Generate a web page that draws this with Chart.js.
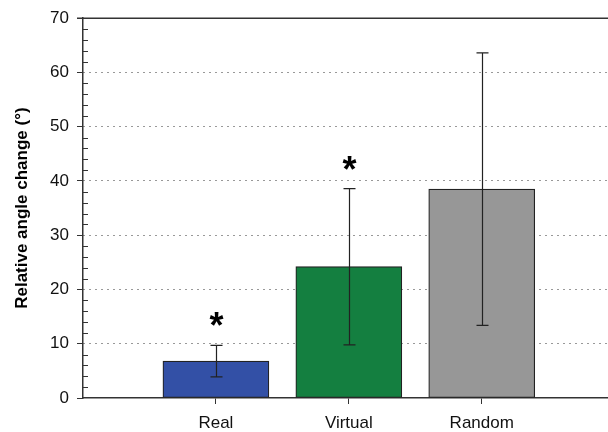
<!DOCTYPE html>
<html>
<head>
<meta charset="utf-8">
<script src="https://cdn.jsdelivr.net/npm/chart.js@4"></script>
<style>
  html, body { margin: 0; padding: 0; background: #fff; }
  #wrap { width: 608px; height: 432px; }
</style>
</head>
<body>
<div id="wrap"><canvas id="angleChart" width="608" height="432"></canvas></div>
<script>
// * data
const groups = ["Real", "Virtual", "Random"];
const meanChange = [6.8, 24.2, 38.5];
const errChange = [2.9, 14.4, 25.1];
const signif = ["*", "*", ""];
const yTicks = [0, 10, 20, 30, 40, 50, 60, 70];
const barColor = ["#3350a6", "#147f40", "#979797"];

const fontName = "'Liberation Sans', Arial, sans-serif";

// ? error bars, asterisks, minor ticks, top frame line
const extrasPlugin = {
  id: "extras",
  afterDatasetsDraw(chart) {
    const ctx = chart.ctx;
    const yScale = chart.scales.y;
    const meta = chart.getDatasetMeta(0);
    const area = chart.chartArea;

    ctx.save();
    ctx.strokeStyle = "#222";
    ctx.lineWidth = 1.2;
    meta.data.forEach((bar, i) => {
      const x = Math.round(bar.x) + 0.5;
      const yTop = yScale.getPixelForValue(meanChange[i] + errChange[i]);
      const yBot = yScale.getPixelForValue(meanChange[i] - errChange[i]);
      ctx.beginPath();
      ctx.moveTo(x, yTop);
      ctx.lineTo(x, yBot);
      ctx.moveTo(x - 6, yTop);
      ctx.lineTo(x + 6, yTop);
      ctx.moveTo(x - 6, yBot);
      ctx.lineTo(x + 6, yBot);
      ctx.stroke();

      if (signif[i]) {
        ctx.fillStyle = "#000";
        ctx.font = "bold 36px " + fontName;
        ctx.textAlign = "center";
        ctx.textBaseline = "alphabetic";
        ctx.fillText(signif[i], x, yTop - 7);
      }
    });

    // minor ticks every 2 units, inside the axis
    ctx.strokeStyle = "#333";
    ctx.lineWidth = 1;
    for (let v = 2; v < 70; v += 2) {
      if (v % 10 === 0) continue;
      const y = Math.round(yScale.getPixelForValue(v)) + 0.5;
      ctx.beginPath();
      ctx.moveTo(area.left, y);
      ctx.lineTo(area.left + 5, y);
      ctx.stroke();
    }

    // top frame line
    ctx.strokeStyle = "#333";
    ctx.lineWidth = 1.5;
    ctx.beginPath();
    ctx.moveTo(area.left - 6, area.top);
    ctx.lineTo(area.right, area.top);
    ctx.stroke();
    ctx.restore();
  },
};

const barCanvas = document.getElementById("angleChart").getContext("2d");
const barData = {
  datasets: [
    {
      data: groups.map((g, i) => ({ x: i + 1, y: meanChange[i] })),
      backgroundColor: barColor,
      borderColor: "#222",
      borderWidth: 1.2,
      borderSkipped: false,
      barThickness: 106,
    },
  ],
};

const barChart = new Chart(barCanvas, {
  type: "bar",
  data: barData,
  options: {
    responsive: false,
    animation: false,
    events: [],
    layout: { padding: { top: 14, right: 0, bottom: 0, left: 0 } },
    plugins: {
      legend: { display: false },
      tooltip: { enabled: false },
    },
    scales: {
      x: {
        type: "linear",
        min: 0,
        max: 3.95,
        offset: false,
        afterBuildTicks: (s) => {
          s.ticks = [1, 2, 3].map((v) => ({ value: v }));
        },
        afterFit: (s) => {
          s.height = 34;
        },
        ticks: {
          callback: (v) => groups[v - 1] || "",
          color: "#111",
          font: { family: fontName, size: 17 },
          padding: 9,
          maxRotation: 0,
          autoSkip: false,
        },
        grid: {
          offset: false,
          drawOnChartArea: false,
          drawTicks: true,
          tickLength: 6,
          tickColor: "#333",
        },
        border: { color: "#333", width: 1.5 },
      },
      y: {
        min: 0,
        max: 70,
        afterBuildTicks: (s) => {
          s.ticks = yTicks.map((v) => ({ value: v }));
        },
        afterFit: (s) => {
          s.width = 83;
        },
        ticks: {
          color: "#111",
          font: { family: fontName, size: 17 },
          padding: 8,
        },
        grid: {
          color: (c) =>
            c.tick && (c.tick.value === 0 || c.tick.value === 70)
              ? "rgba(0,0,0,0)"
              : "#333",
          lineWidth: 1,
          tickColor: "#333",
          tickLength: 6,
        },
        border: { color: "#333", width: 1.5, dash: [1, 5] },
        title: {
          display: true,
          text: "Relative angle change (°)",
          color: "#000",
          font: { family: fontName, size: 17, weight: "bold" },
          padding: { top: 12, bottom: 0 },
        },
      },
    },
  },
  plugins: [extrasPlugin],
});
</script>
</body>
</html>
